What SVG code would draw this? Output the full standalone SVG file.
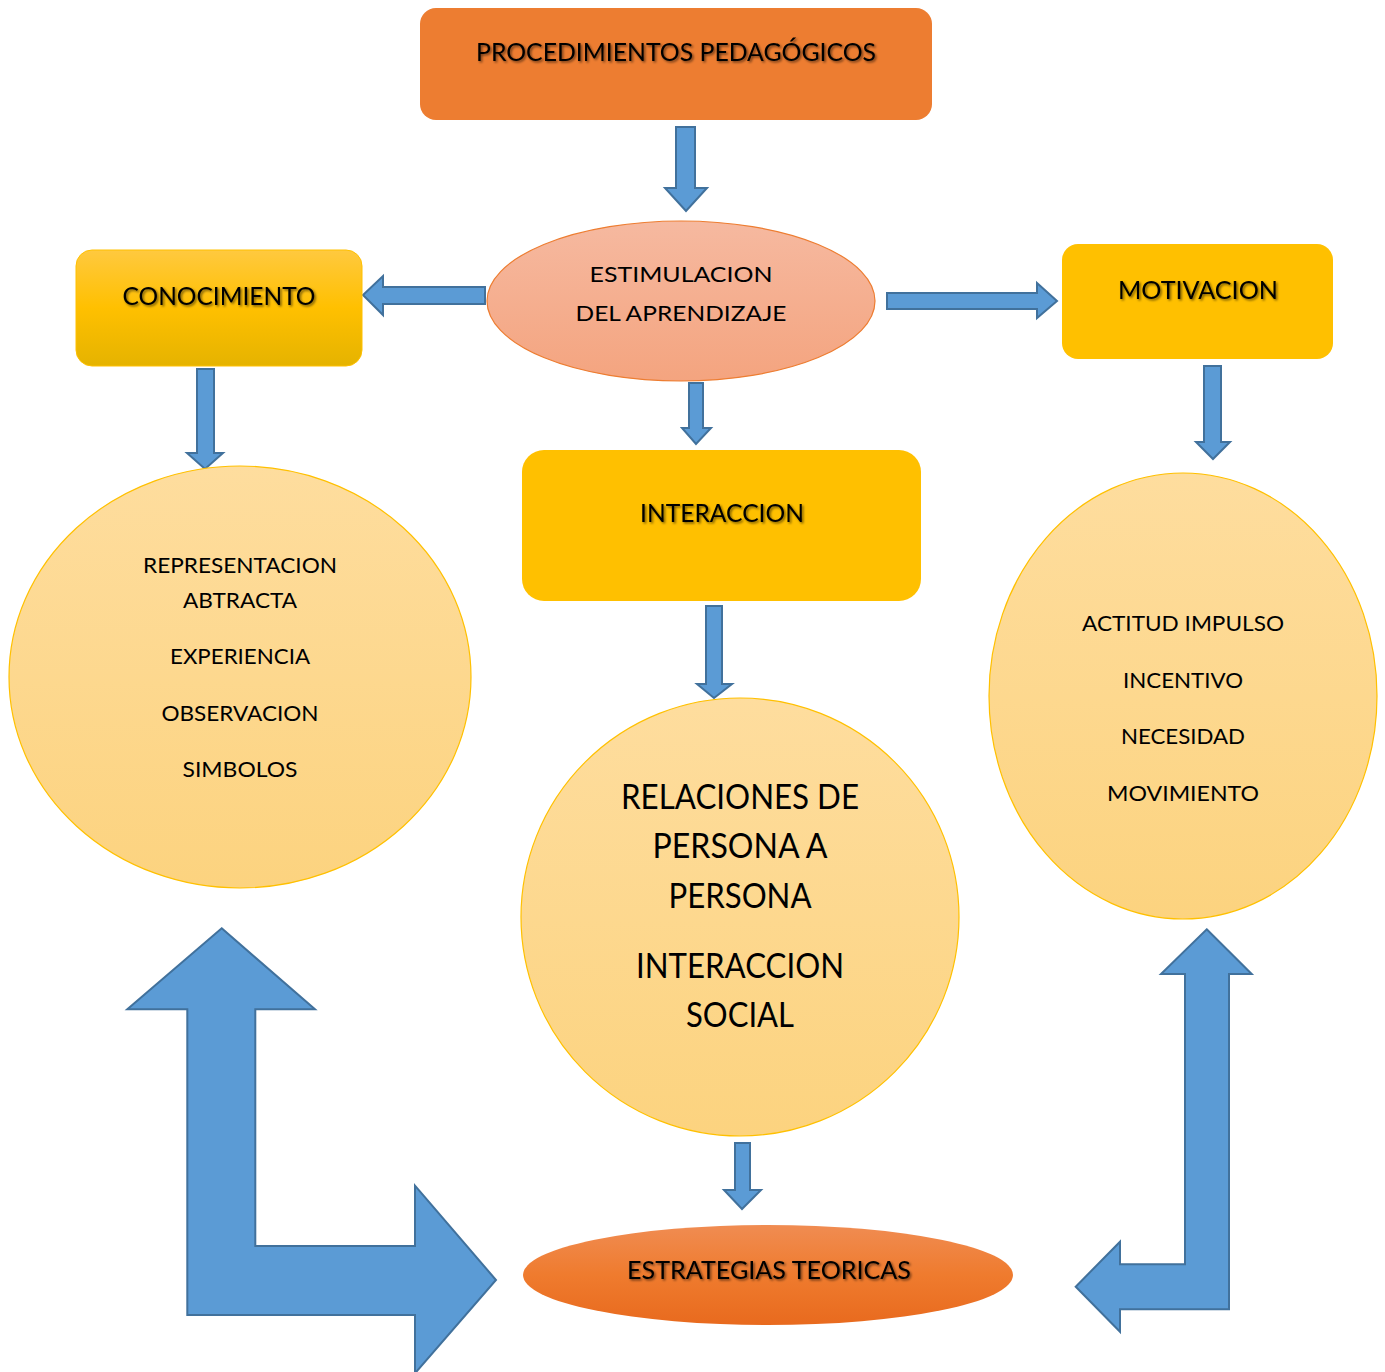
<svg xmlns="http://www.w3.org/2000/svg" width="1385" height="1372" viewBox="0 0 1385 1372">
<defs>
<linearGradient id="gEst" x1="0" y1="0" x2="0" y2="1"><stop offset="0" stop-color="#F6B9A0"/><stop offset="1" stop-color="#F4A47F"/></linearGradient>
<linearGradient id="gCon" x1="0" y1="0" x2="0" y2="1"><stop offset="0" stop-color="#FFC93F"/><stop offset="0.5" stop-color="#FFC000"/><stop offset="1" stop-color="#E5B300"/></linearGradient>
<linearGradient id="gCirc" x1="0" y1="0" x2="0" y2="1"><stop offset="0" stop-color="#FEDD9E"/><stop offset="1" stop-color="#FCD37F"/></linearGradient>
<linearGradient id="gStr" x1="0" y1="0" x2="0" y2="1"><stop offset="0" stop-color="#F08C52"/><stop offset="0.5" stop-color="#EF7B2E"/><stop offset="1" stop-color="#E86A1E"/></linearGradient>
<filter id="sh" x="-10%" y="-50%" width="120%" height="200%"><feDropShadow dx="1.5" dy="1.5" stdDeviation="1.2" flood-color="#000" flood-opacity="0.55"/></filter>
</defs>
<style>
text{font-family:"Lato","Open Sans","Liberation Sans",sans-serif;fill:#000;text-anchor:middle}
.lbl{font-size:25px;filter:url(#sh)}
.sm{font-size:22px}
.big{font-size:34px}
.arr{fill:#5B9BD5;stroke:#41719C;stroke-width:2;stroke-linejoin:miter}
</style>
<rect width="1385" height="1372" fill="#FFFFFF"/>

<g id="connectors">
<polygon class="arr" points="676,127 695,127 695,188 707,188 686,211 665,188 676,188"/>
<polygon class="arr" points="485,287 485,304 383,304 383,315 363,295 383,276 383,287"/>
<polygon class="arr" points="887,293 1037,293 1037,283 1057,301 1037,318 1037,309 887,309"/>
<polygon class="arr" points="197,369 214,369 214,453 223,453 205,469 187,453 197,453"/>
<polygon class="arr" points="689,383 703,383 703,428 711,428 696,444 682,428 689,428"/>
<polygon class="arr" points="1204,366 1221,366 1221,442 1230,442 1213,459 1196,442 1204,442"/>
<polygon class="arr" points="706,606 722,606 722,684 732,684 714,698 697,684 706,684"/>
<polygon class="arr" points="735,1143 750,1143 750,1190 761,1190 742,1209 724,1190 735,1190"/>
<polygon class="arr" points="221.7,928.3 315,1009.3 255.3,1009.3 255.3,1246 415,1246 415,1185.7 496,1280 415,1373.3 415,1315 187.3,1315 187.3,1009.3 127.3,1009.3"/>
<polygon class="arr" points="1206.7,929.3 1251.7,974 1229,974 1229,1309.3 1120,1309.3 1120,1331.7 1075.7,1286.7 1120,1241.7 1120,1264.3 1185,1264.3 1185,974 1161,974"/>
</g>

<g id="procedimientos">
<rect x="420" y="8" width="512" height="112" rx="16" fill="#ED7D31"/>
<text class="lbl" x="676" y="61" textLength="400" lengthAdjust="spacingAndGlyphs">PROCEDIMIENTOS PEDAGÓGICOS</text>
</g>

<g id="estimulacion">
<ellipse cx="681" cy="301" rx="194" ry="80" fill="url(#gEst)" stroke="#ED7D31" stroke-width="1.2"/>
<text class="sm" x="681" y="282" textLength="183" lengthAdjust="spacingAndGlyphs">ESTIMULACION</text>
<text class="sm" x="681" y="321" textLength="211" lengthAdjust="spacingAndGlyphs">DEL APRENDIZAJE</text>
</g>

<g id="conocimiento">
<rect x="76" y="250" width="286" height="116" rx="16" fill="url(#gCon)" stroke="#FFC000" stroke-width="1"/>
<text class="lbl" x="219" y="305" textLength="193" lengthAdjust="spacingAndGlyphs">CONOCIMIENTO</text>
</g>

<g id="motivacion">
<rect x="1062" y="244" width="271" height="115" rx="16" fill="#FFC000"/>
<text class="lbl" x="1198" y="299" textLength="160" lengthAdjust="spacingAndGlyphs">MOTIVACION</text>
</g>

<g id="interaccion">
<rect x="522" y="450" width="399" height="151" rx="22" fill="#FFC000"/>
<text class="lbl" x="722" y="522" textLength="164" lengthAdjust="spacingAndGlyphs">INTERACCION</text>
</g>

<g id="conocimiento-detalle">
<ellipse cx="240" cy="677" rx="231" ry="211" fill="url(#gCirc)" stroke="#FFC000" stroke-width="1.2"/>
<text class="sm" x="240" y="573" textLength="194" lengthAdjust="spacingAndGlyphs">REPRESENTACION</text>
<text class="sm" x="240" y="608" textLength="114" lengthAdjust="spacingAndGlyphs">ABTRACTA</text>
<text class="sm" x="240" y="664" textLength="140" lengthAdjust="spacingAndGlyphs">EXPERIENCIA</text>
<text class="sm" x="240" y="721" textLength="157" lengthAdjust="spacingAndGlyphs">OBSERVACION</text>
<text class="sm" x="240" y="777" textLength="115" lengthAdjust="spacingAndGlyphs">SIMBOLOS</text>
</g>

<g id="relaciones">
<ellipse cx="740" cy="917" rx="219" ry="219" fill="url(#gCirc)" stroke="#FFC000" stroke-width="1.2"/>
<text class="big" x="740" y="809" textLength="238" lengthAdjust="spacingAndGlyphs">RELACIONES DE</text>
<text class="big" x="740" y="858" textLength="175" lengthAdjust="spacingAndGlyphs">PERSONA A</text>
<text class="big" x="740" y="908" textLength="143" lengthAdjust="spacingAndGlyphs">PERSONA</text>
<text class="big" x="740" y="978" textLength="208" lengthAdjust="spacingAndGlyphs">INTERACCION</text>
<text class="big" x="740" y="1027" textLength="108" lengthAdjust="spacingAndGlyphs">SOCIAL</text>
</g>

<g id="motivacion-detalle">
<ellipse cx="1183" cy="696" rx="194" ry="223" fill="url(#gCirc)" stroke="#FFC000" stroke-width="1.2"/>
<text class="sm" x="1183" y="631" textLength="202" lengthAdjust="spacingAndGlyphs">ACTITUD IMPULSO</text>
<text class="sm" x="1183" y="688" textLength="120" lengthAdjust="spacingAndGlyphs">INCENTIVO</text>
<text class="sm" x="1183" y="744" textLength="124" lengthAdjust="spacingAndGlyphs">NECESIDAD</text>
<text class="sm" x="1183" y="801" textLength="152" lengthAdjust="spacingAndGlyphs">MOVIMIENTO</text>
</g>

<g id="estrategias">
<ellipse cx="768" cy="1275" rx="245" ry="50" fill="url(#gStr)"/>
<text class="lbl" x="769" y="1279" textLength="284" lengthAdjust="spacingAndGlyphs">ESTRATEGIAS TEORICAS</text>
</g>
</svg>
